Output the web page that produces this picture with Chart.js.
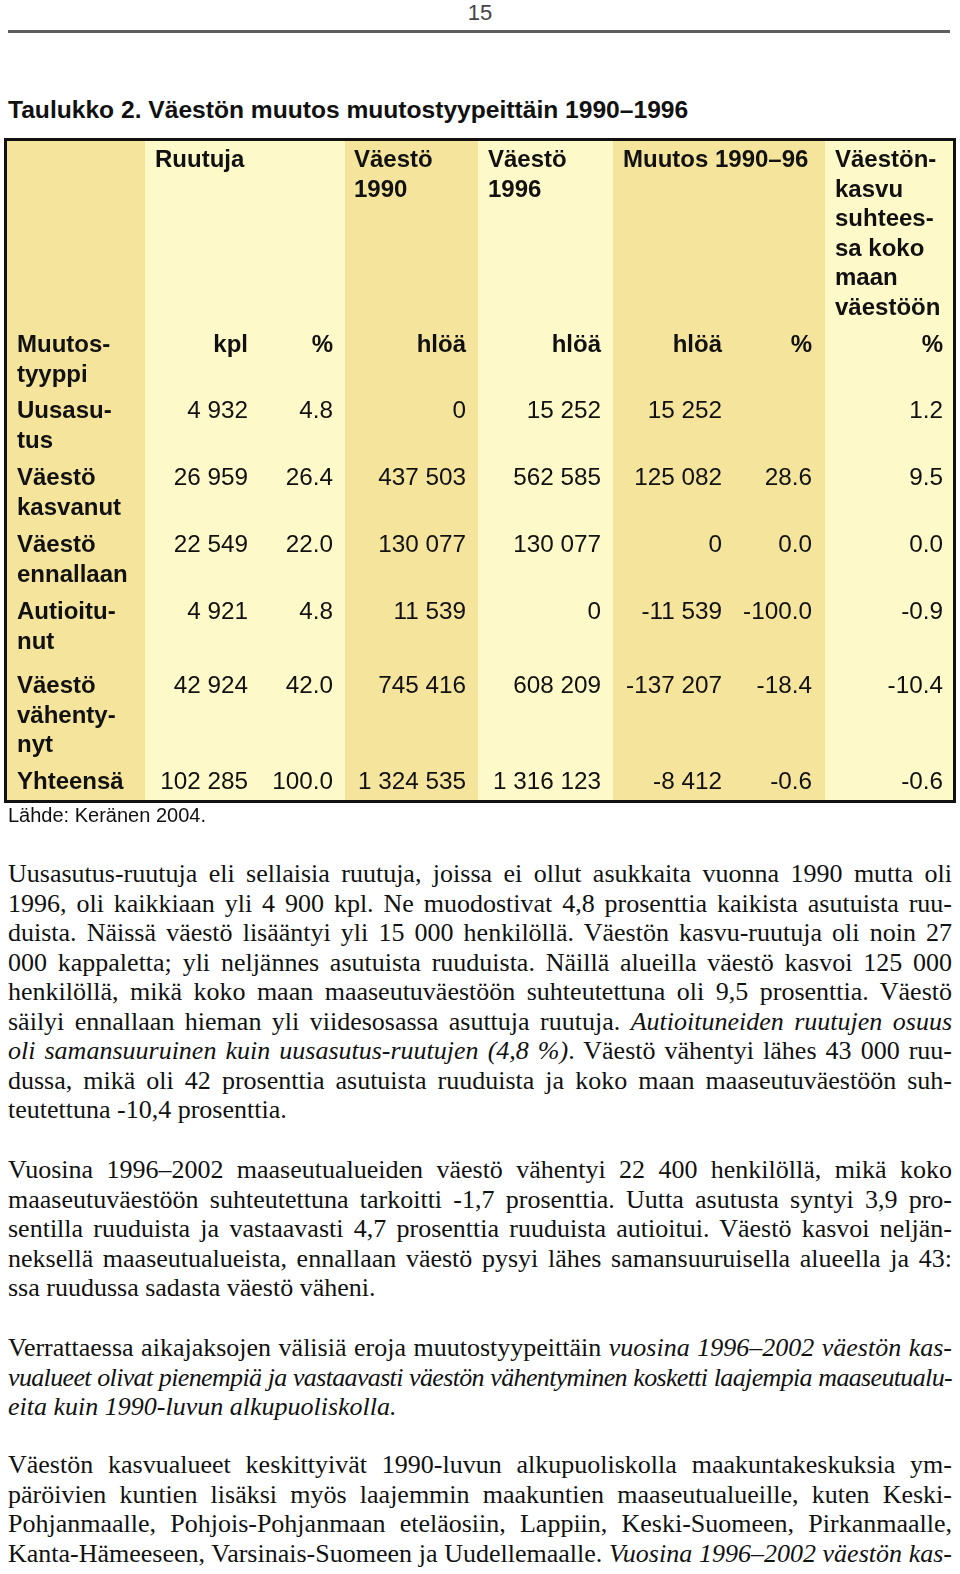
<!DOCTYPE html>
<html lang="fi">
<head>
<meta charset="utf-8">
<title>Taulukko 2</title>
<script src="https://cdn.jsdelivr.net/npm/chart.js@4.4.1/dist/chart.umd.min.js"></script>
<style>
  html,body{margin:0;padding:0;background:#fff;}
  body{width:960px;height:1574px;position:relative;overflow:hidden;color:#111;}
  .ln{position:absolute;white-space:nowrap;}
  .sans{font-family:"Liberation Sans",Arial,Helvetica,sans-serif;}
  .serif{font-family:"Liberation Serif","Times New Roman",serif;}
  .just{text-align:justify;text-align-last:justify;}
  #rule{position:absolute;left:8px;top:30px;width:942px;height:3px;background:#5e5e5e;}
  #tbl{position:absolute;left:0;top:130px;}
</style>
</head>
<body>
<div id="rule"></div>
<canvas id="tbl" width="960" height="680"></canvas>
<script>
// ---------- table data ----------
const stubHeader   = ["Muutos-", "tyyppi"];
const groupHeaders = [["Ruutuja"], ["Väestö", "1990"], ["Väestö", "1996"], ["Muutos 1990–96"],
                      ["Väestön-", "kasvu", "suhtees-", "sa koko", "maan", "väestöön"]];
const unitLabels   = ["kpl", "%", "hlöä", "hlöä", "hlöä", "%", "%"];
const changeTypes  = [["Uusasu-", "tus"], ["Väestö", "kasvanut"], ["Väestö", "ennallaan"],
                      ["Autioitu-", "nut"], ["Väestö", "vähenty-", "nyt"], ["Yhteensä"]];
const squaresKpl   = [4932, 26959, 22549, 4921, 42924, 102285];
const squaresPct   = [4.8, 26.4, 22.0, 4.8, 42.0, 100.0];
const pop1990      = [0, 437503, 130077, 11539, 745416, 1324535];
const pop1996      = [15252, 562585, 130077, 0, 608209, 1316123];
const change9096   = [15252, 125082, 0, -11539, -137207, -8412];
const changePct    = [null, 28.6, 0.0, -100.0, -18.4, -0.6];
const shareOfTotal = [1.2, 9.5, 0.0, -0.9, -10.4, -0.6];

const valueColumns = [
  {values: squaresKpl, kind: "int"}, {values: squaresPct, kind: "dec"},
  {values: pop1990, kind: "int"}, {values: pop1996, kind: "int"},
  {values: change9096, kind: "int"}, {values: changePct, kind: "dec"},
  {values: shareOfTotal, kind: "dec"}
];

// ---------- layout & style (page coordinates) ----------
const DARK = "#f4e49c", LIGHT = "#fef9c9";
const layout = {
  top: 138, bottom: 803, left: 4, right: 956, border: 3,
  bandEdges: [7, 145, 345, 478, 613, 825, 953],
  bandFills: [DARK, LIGHT, DARK, LIGHT, DARK, LIGHT],
  stubX: 17, groupX: [155, 354, 488, 623, 835],
  valueRight: [248, 333, 466, 601, 722, 812, 943],
  headBase: 167, unitBase: 352, rowBase: [418, 485, 552, 619, 693, 789], step: 29.5
};
const BOLD = 'bold 24px "Liberation Sans", Arial, sans-serif';
const REG  = '24.3px "Liberation Sans", Arial, sans-serif';

function fmtInt(n) {
  const s = Math.abs(n).toString().replace(/\B(?=(\d{3})+(?!\d))/g, " ");
  return (n < 0 ? "-" : "") + s;
}
function fmtDec(n) { return n.toFixed(1); }

const tablePlugin = {
  id: "tableCells",
  beforeDraw(chart) {
    const {ctx} = chart, sx = chart.scales.x, sy = chart.scales.y;
    const X = v => sx.getPixelForValue(v), Y = v => sy.getPixelForValue(v);
    ctx.save();
    // column bands
    layout.bandFills.forEach((c, i) => {
      ctx.fillStyle = c;
      const x0 = X(layout.bandEdges[i]), x1 = X(layout.bandEdges[i + 1]);
      ctx.fillRect(x0, Y(layout.top), x1 - x0, Y(layout.bottom) - Y(layout.top));
    });
    // border
    const b = layout.border;
    ctx.strokeStyle = "#111"; ctx.lineWidth = b;
    ctx.strokeRect(X(layout.left) + b / 2, Y(layout.top) + b / 2,
                   X(layout.right) - X(layout.left) - b, Y(layout.bottom) - Y(layout.top) - b);
    ctx.fillStyle = "#111";
    ctx.textBaseline = "alphabetic";
    // header groups
    ctx.font = BOLD; ctx.textAlign = "left";
    groupHeaders.forEach((lines, g) => lines.forEach((t, k) =>
      ctx.fillText(t, X(layout.groupX[g]), Y(layout.headBase + k * layout.step))));
    // stub header
    stubHeader.forEach((t, k) => ctx.fillText(t, X(layout.stubX), Y(layout.unitBase + k * layout.step)));
    // unit labels
    ctx.textAlign = "right";
    unitLabels.forEach((t, j) => ctx.fillText(t, X(layout.valueRight[j]), Y(layout.unitBase)));
    // row labels
    ctx.textAlign = "left";
    changeTypes.forEach((lines, i) => lines.forEach((t, k) =>
      ctx.fillText(t, X(layout.stubX), Y(layout.rowBase[i] + k * layout.step))));
    // values
    ctx.font = REG; ctx.textAlign = "right";
    valueColumns.forEach((col, j) => col.values.forEach((v, i) => {
      if (v === null) return;
      const s = col.kind === "int" ? fmtInt(v) : fmtDec(v);
      ctx.fillText(s, X(layout.valueRight[j]), Y(layout.rowBase[i]));
    }));
    ctx.restore();
  }
};

new Chart(document.getElementById("tbl"), {
  type: "scatter",
  data: {datasets: [{data: [], pointRadius: 0}]},
  options: {
    responsive: false, animation: false, devicePixelRatio: 1,
    layout: {padding: 0},
    scales: {
      x: {type: "linear", min: 0, max: 960, display: false},
      y: {type: "linear", min: 130, max: 810, reverse: true, display: false}
    },
    plugins: {legend: {display: false}, tooltip: {enabled: false}}
  },
  plugins: [tablePlugin]
});

// ---------- page text ----------
const METRICS = {sans: [0.905, 0.212], serif: [0.891, 0.216]};
function placeLine(html, o) {
  const d = document.createElement("div");
  d.className = "ln " + o.family + (o.justify ? " just" : "");
  d.innerHTML = html;
  const [a, de] = METRICS[o.family];
  const lh = o.lh || Math.round(o.fs * 1.25);
  const top = o.base - ((lh - (a + de) * o.fs) / 2 + a * o.fs);
  Object.assign(d.style, {
    left: o.left + "px", top: top + "px", fontSize: o.fs + "px", lineHeight: lh + "px",
    fontWeight: o.bold ? "bold" : "normal", color: o.color || "#111"
  });
  if (o.width) d.style.width = o.width + "px";
  if (o.center) { d.style.width = "960px"; d.style.left = "0px"; d.style.textAlign = "center"; }
  document.body.appendChild(d);
  if (o.width && d.scrollWidth > o.width + 0.5) {
    // squeeze letter-spacing a little if a line would overflow
    const n = d.textContent.length;
    d.style.letterSpacing = (-(d.scrollWidth - o.width) / n - 0.05) + "px";
  }
  return d;
}

placeLine("15", {family: "sans", fs: 22, base: 21, center: true, color: "#444"});
placeLine("Taulukko 2. Väestön muutos muutostyypeittäin 1990–1996",
          {family: "sans", fs: 24.6, base: 118, left: 8, bold: true});
placeLine("Lähde: Keränen 2004.", {family: "sans", fs: 20, base: 822, left: 8});

const paragraphs = [
  {base: 883, lines: [
    "Uusasutus-ruutuja eli sellaisia ruutuja, joissa ei ollut asukkaita vuonna 1990 mutta oli",
    "1996, oli kaikkiaan yli 4 900 kpl. Ne muodostivat 4,8 prosenttia kaikista asutuista ruu-",
    "duista. Näissä väestö lisääntyi yli 15 000 henkilöllä. Väestön kasvu-ruutuja oli noin 27",
    "000 kappaletta; yli neljännes asutuista ruuduista. Näillä alueilla väestö kasvoi 125 000",
    "henkilöllä, mikä koko maan maaseutuväestöön suhteutettuna oli 9,5 prosenttia. Väestö",
    "säilyi ennallaan hieman yli viidesosassa asuttuja ruutuja. <i>Autioituneiden ruutujen osuus</i>",
    "<i>oli samansuuruinen kuin uusasutus-ruutujen (4,8 %)</i>. Väestö vähentyi lähes 43 000 ruu-",
    "dussa, mikä oli 42 prosenttia asutuista ruuduista ja koko maan maaseutuväestöön suh-",
    "teutettuna -10,4 prosenttia."]},
  {base: 1179, lines: [
    "Vuosina 1996–2002 maaseutualueiden väestö vähentyi 22 400 henkilöllä, mikä koko",
    "maaseutuväestöön suhteutettuna tarkoitti -1,7 prosenttia. Uutta asutusta syntyi 3,9 pro-",
    "sentilla ruuduista ja vastaavasti 4,7 prosenttia ruuduista autioitui. Väestö kasvoi neljän-",
    "neksellä maaseutualueista, ennallaan väestö pysyi lähes samansuuruisella alueella ja 43:",
    "ssa ruudussa sadasta väestö väheni."]},
  {base: 1357, lines: [
    "Verrattaessa aikajaksojen välisiä eroja muutostyypeittäin <i>vuosina 1996–2002 väestön kas-</i>",
    "<i>vualueet olivat pienempiä ja vastaavasti väestön vähentyminen kosketti laajempia maaseutualu-</i>",
    "<i>eita kuin 1990-luvun alkupuoliskolla.</i>"]},
  {base: 1474, cont: true, lines: [
    "Väestön kasvualueet keskittyivät 1990-luvun alkupuoliskolla maakuntakeskuksia ym-",
    "päröivien kuntien lisäksi myös laajemmin maakuntien maaseutualueille, kuten Keski-",
    "Pohjanmaalle, Pohjois-Pohjanmaan eteläosiin, Lappiin, Keski-Suomeen, Pirkanmaalle,",
    "Kanta-Hämeeseen, Varsinais-Suomeen ja Uudellemaalle. <i>Vuosina 1996–2002 väestön kas-</i>"]}
];
const BODY_FS = 26, BODY_STEP = 29.5;
paragraphs.forEach(p => p.lines.forEach((t, k) => {
  const last = k === p.lines.length - 1 && !p.cont;
  placeLine(t, {family: "serif", fs: BODY_FS, lh: 30, base: p.base + k * BODY_STEP,
                left: 8, width: 944, justify: !last});
}));
</script>
</body>
</html>
